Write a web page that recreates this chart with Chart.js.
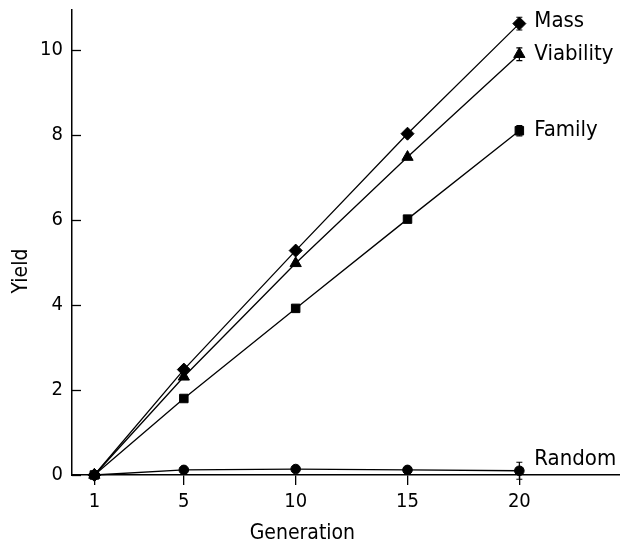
<!DOCTYPE html>
<html>
<head>
<meta charset="utf-8">
<script src="https://cdn.jsdelivr.net/npm/chart.js@4/dist/chart.umd.min.js"></script>
<style>
  html, body { margin: 0; padding: 0; background: #fff; }
  #wrap { width: 620px; height: 546px; }
</style>
</head>
<body>
<div id="wrap"><canvas id="yield1"></canvas></div>
<script>
// generations sampled
var generations = [1, 5, 10, 15, 20]
var xTicks = [1, 5, 10, 15, 20]
var yTicks = [0, 2, 4, 6, 8, 10]

// yield per selection scheme
var massYield      = [0, 2.48, 5.28, 8.03, 10.62]
var viabilityYield = [0, 2.31, 4.98, 7.48, 9.9]
var familyYield    = [0, 1.8, 3.92, 6.02, 8.1]
var randomYield    = [0, 0.12, 0.14, 0.12, 0.1]

// error bars (only at the last generation)
var massErr      = [0, 0, 0, 0, 0.15]
var viabilityErr = [0, 0, 0, 0, 0.15]
var familyErr    = [0, 0, 0, 0, 0.12]
var randomErr    = [0, 0, 0, 0, 0.2]

var seriesNames = ["Mass", "Viability", "Family", "Random"]

var FONT = '"DejaVu Sans Condensed", "DejaVu Sans", sans-serif'

function pts(vals){
  return generations.map(function(g, i){ return {x: g, y: vals[i]} })
}

function mkSet(name, vals, errs, style, r){
  return {
    label: name,
    data: pts(vals),
    errors: errs,
    borderColor: '#000',
    backgroundColor: '#000',
    borderWidth: 1.3,
    pointStyle: style,
    pointRadius: r,
    pointBorderWidth: 1,
    pointBackgroundColor: '#000',
    pointBorderColor: '#000',
    tension: 0,
    fill: false,
    clip: false
  }
}

// stretch the x axis to the right edge of the canvas
var fullWidth = {
  id: 'fullWidth',
  afterLayout: function(chart){
    var x = chart.scales.x
    chart.chartArea.right = chart.width
    chart.chartArea.width = chart.width - chart.chartArea.left
    x.right = chart.width
    x.width = x.right - x.left
    x.configure()
  }
}

// little inward ticks on the y axis + the two axis titles
var axisBits = {
  id: 'axisBits',
  afterDraw: function(chart){
    var ctx = chart.ctx, x = chart.scales.x, y = chart.scales.y, a = chart.chartArea
    ctx.save()
    ctx.strokeStyle = '#000'
    ctx.lineWidth = 1.3
    yTicks.forEach(function(v){
      var py = Math.round(y.getPixelForValue(v)) + 0.5
      ctx.beginPath()
      ctx.moveTo(a.left, py)
      ctx.lineTo(a.left + 9, py)
      ctx.stroke()
    })
    ctx.fillStyle = '#000'
    ctx.font = '21px ' + FONT
    ctx.textAlign = 'center'
    ctx.textBaseline = 'middle'
    ctx.fillText('Generation', x.getPixelForValue(10.3), 534)
    ctx.translate(22, y.getPixelForValue(4.8))
    ctx.rotate(-Math.PI / 2)
    ctx.fillText('Yield', 0, 0)
    ctx.restore()
  }
}

// error bars and labels next to the last point
var yOffsets = [-2, 0, 0, -11]
var endBits = {
  id: 'endBits',
  afterDatasetsDraw: function(chart){
    var ctx = chart.ctx, xs = chart.scales.x, ys = chart.scales.y
    ctx.save()
    ctx.strokeStyle = '#000'
    ctx.fillStyle = '#000'
    ctx.lineWidth = 1.2
    chart.data.datasets.forEach(function(ds, k){
      ds.data.forEach(function(p, i){
        var e = ds.errors[i]
        if (!e) return
        var px = xs.getPixelForValue(p.x)
        var top = ys.getPixelForValue(p.y + e)
        var bot = ys.getPixelForValue(p.y - e)
        ctx.beginPath()
        ctx.moveTo(px, top); ctx.lineTo(px, bot)
        ctx.moveTo(px - 3, top); ctx.lineTo(px + 3, top)
        ctx.moveTo(px - 3, bot); ctx.lineTo(px + 3, bot)
        ctx.stroke()
      })
      var last = ds.data[ds.data.length - 1]
      ctx.font = '22px ' + FONT
      ctx.textBaseline = 'middle'
      ctx.textAlign = 'left'
      ctx.fillText(seriesNames[k], xs.getPixelForValue(last.x) + 15, ys.getPixelForValue(last.y) + yOffsets[k])
    })
    ctx.restore()
  }
}

new Chart("yield1", {
  type: 'line',
  data: {
    datasets: [
      mkSet(seriesNames[0], massYield, massErr, 'rectRot', 6.5),
      mkSet(seriesNames[1], viabilityYield, viabilityErr, 'triangle', 6.5),
      mkSet(seriesNames[2], familyYield, familyErr, 'rect', 6),
      mkSet(seriesNames[3], randomYield, randomErr, 'circle', 4.8)
    ]
  },
  options: {
    responsive: true,
    maintainAspectRatio: false,
    animation: false,
    layout: { padding: { top: 10, right: 0, left: 0, bottom: 0 } },
    plugins: {
      legend: { display: false },
      tooltip: { enabled: false }
    },
    scales: {
      x: {
        type: 'linear',
        min: 0,
        max: 24.5,
        afterBuildTicks: function(s){ s.ticks = xTicks.map(function(v){ return {value: v} }) },
        afterFit: function(s){ s.height = 71; s.paddingLeft = 0; s.paddingRight = 0 },
        border: { display: true, color: '#000', width: 1.5 },
        grid: { drawOnChartArea: false, drawTicks: true, tickLength: 10, color: '#000', lineWidth: 1.3 },
        ticks: { color: '#000', padding: 5, maxRotation: 0, font: { family: FONT, size: 20 } }
      },
      y: {
        type: 'linear',
        min: 0,
        max: 10.94,
        afterBuildTicks: function(s){ s.ticks = yTicks.map(function(v){ return {value: v} }) },
        afterFit: function(s){ s.width = 72; s.paddingTop = 0; s.paddingBottom = 0 },
        border: { display: true, color: '#000', width: 1.5 },
        grid: { display: false, drawTicks: false },
        ticks: { color: '#000', padding: 9, font: { family: FONT, size: 20 } }
      }
    }
  },
  plugins: [fullWidth, axisBits, endBits]
});
</script>
</body>
</html>
